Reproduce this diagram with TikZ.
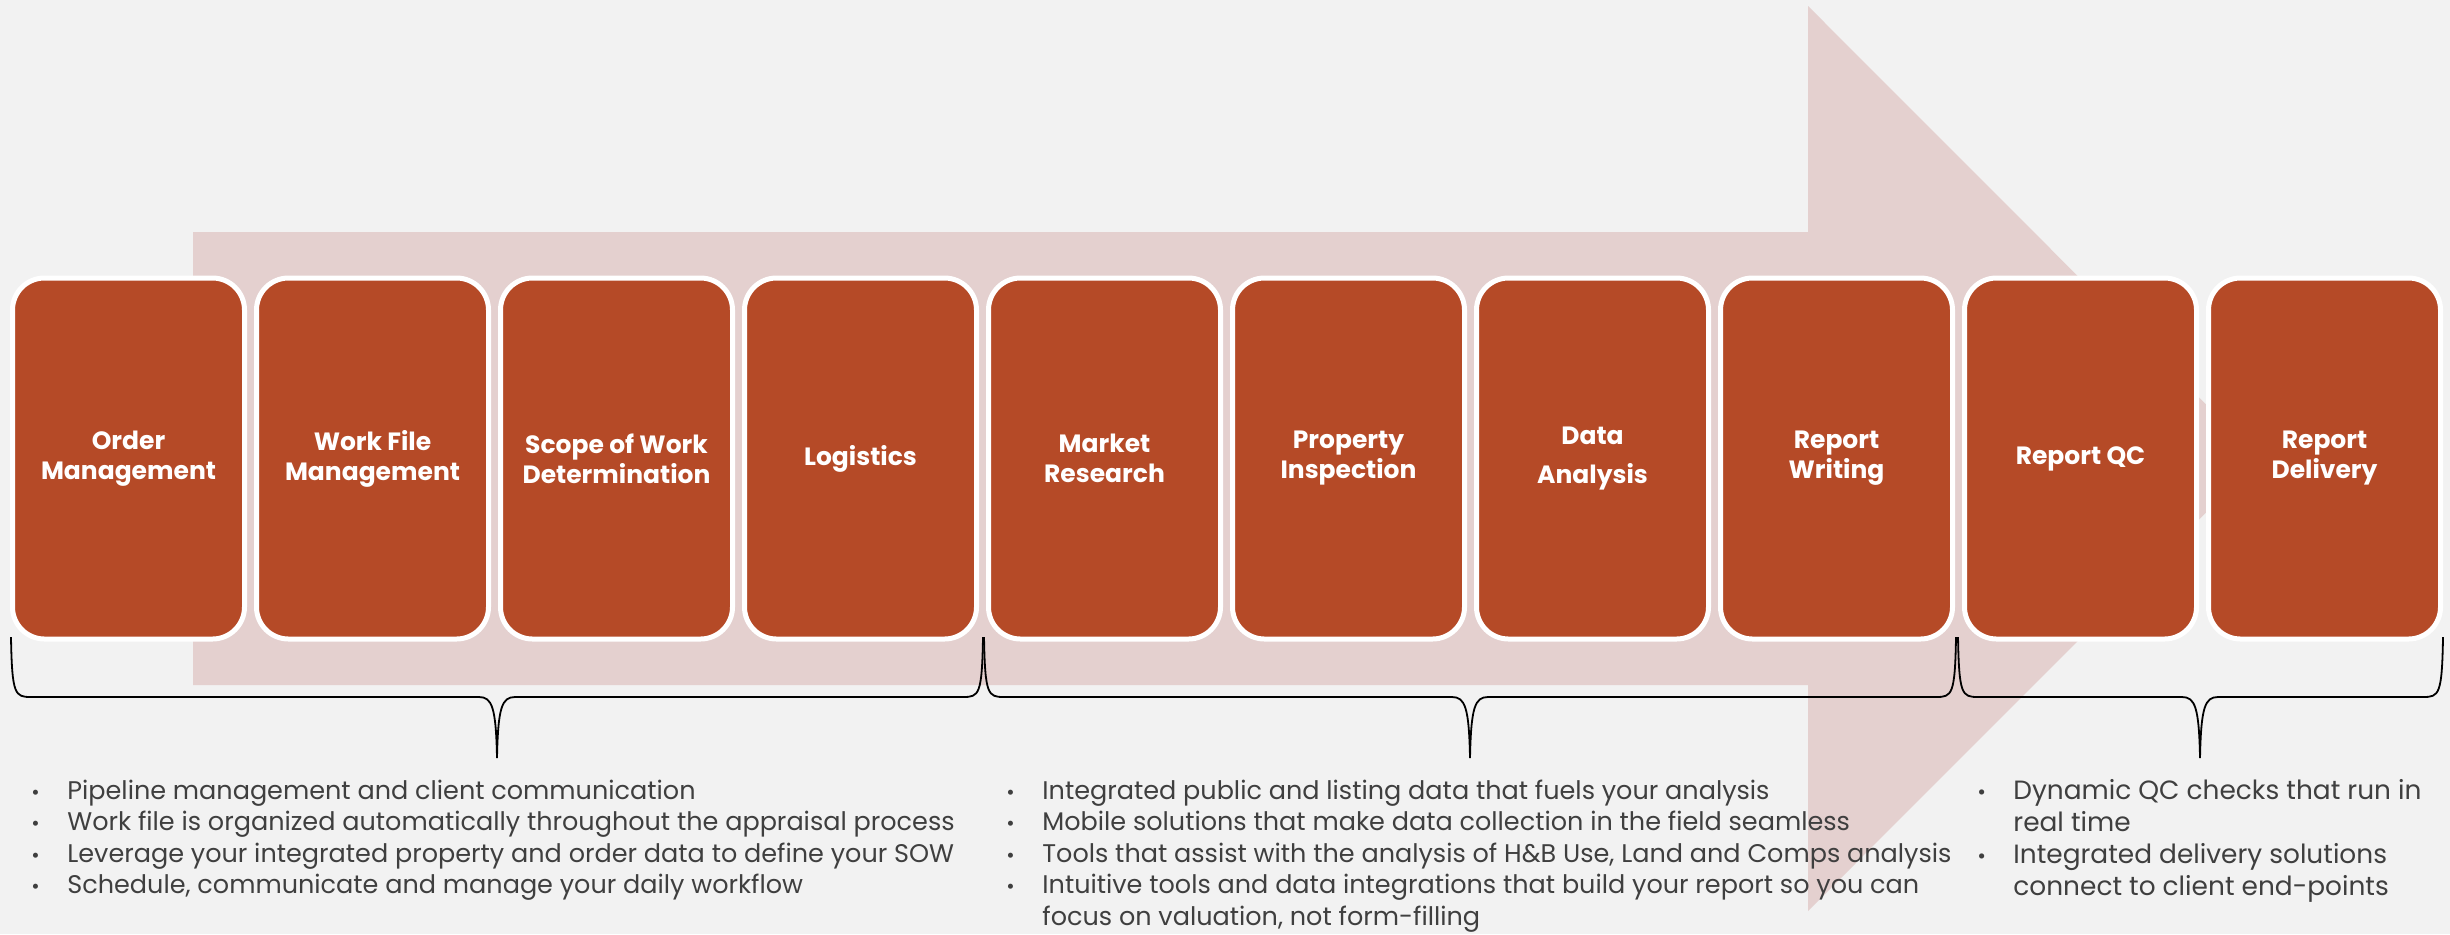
\documentclass[tikz,border=0pt]{standalone}
\usepackage{fontspec}
\setmainfont{Poppins}
\usetikzlibrary{calc}
\definecolor{bg}{HTML}{F2F2F2}
\definecolor{arrowc}{HTML}{E4D0CF}
\definecolor{boxc}{HTML}{B54A27}
\definecolor{txt}{HTML}{3F3F3F}
\newcommand{\bl}{\makebox[18pt][l]{\scalebox{0.8}{•}}}
\newcommand{\ind}{\hspace*{18pt}}
\begin{document}
\begin{tikzpicture}[x=0.5pt,y=-0.5pt,
  stepbox/.style={rounded corners=16pt, fill=boxc, draw=white, line width=2.5pt,
    minimum width=116pt, minimum height=180.5pt, inner sep=0pt, text=white,
    align=center, font=\fontsize{12.5}{15}\selectfont\bfseries},
  bracel/.style={draw=black, line width=0.9pt},
  bullets/.style={anchor=base west, inner sep=0pt, text=txt,
    font=\fontsize{12.75}{15.75}\selectfont}]
% background
\fill[bg] (0,0) rectangle (2450,934);
\useasboundingbox (0,0) rectangle (2450,934);
% big arrow
\fill[arrowc] (193,232) -- (1808,232) -- (1808,6) -- (2260,458.5) -- (1808,911) -- (1808,685) -- (193,685) -- cycle;
% boxes
\node[stepbox] (b1) at (128.5,458.5) {Order\\Management};
\node[stepbox] (b2) at (372.5,458.5) {Work File\\Management};
\node[stepbox] (b3) at (616.5,458.5) {Scope of Work\\Determination};
\node[stepbox] (b4) at (860.5,458.5) {Logistics};
\node[stepbox] (b5) at (1104.5,458.5) {Market\\Research};
\node[stepbox] (b6) at (1348.5,458.5) {Property\\Inspection};
\node[stepbox] (b7) at (1592.5,458.5) {Data\\[4.5pt]Analysis};
\node[stepbox] (b8) at (1836.5,458.5) {Report\\Writing};
\node[stepbox] (b9) at (2080.5,458.5) {Report QC};
\node[stepbox] (b10) at (2324.5,458.5) {Report\\Delivery};
% brace anchor coordinates
\coordinate (c1a) at (11,637);
\coordinate (c1m) at (497,758);
\coordinate (c1b) at (983,637);
\coordinate (c2a) at (984,637);
\coordinate (c2m) at (1470,758);
\coordinate (c2b) at (1956,637);
\coordinate (c3a) at (1958,637);
\coordinate (c3m) at (2200,758);
\coordinate (c3b) at (2443,637);
\foreach \a/\m/\b in {c1a/c1m/c1b, c2a/c2m/c2b, c3a/c3m/c3b}{
  \draw[bracel] (\a) .. controls ($(\a)+(1,58)$) and ($(\a)+(4,60)$) .. ($(\a |- 0,697)+(20,0)$)
    -- ($(\m |- 0,697)+(-18,0)$) .. controls ($(\m |- 0,697)+(-5,0)$) and ($(\m |- 0,697)+(-1,10)$) .. (\m)
    .. controls ($(\m |- 0,697)+(1,10)$) and ($(\m |- 0,697)+(5,0)$) .. ($(\m |- 0,697)+(18,0)$)
    -- ($(\b |- 0,697)+(-20,0)$) .. controls ($(\b)+(-4,60)$) and ($(\b)+(-1,58)$) .. (\b);
}
% bullet texts
\node[bullets] (t1) at (31,799) {\begin{tabular}[t]{@{}l@{}}
\bl Pipeline management and client communication\\
\bl Work file is organized automatically throughout the appraisal process\\
\bl Leverage your integrated property and order data to define your SOW\\
\bl Schedule, communicate and manage your daily workflow
\end{tabular}};
\node[bullets] (t2) at (1006,799) {\begin{tabular}[t]{@{}l@{}}
\bl Integrated public and listing data that fuels your analysis\\
\bl Mobile solutions that make data collection in the field seamless\\
\bl Tools that assist with the analysis of H\&B Use, Land and Comps analysis\\
\bl Intuitive tools and data integrations that build your report so you can\\
\ind focus on valuation, not form-filling
\end{tabular}};
\node[bullets, font=\fontsize{13.2}{16}\selectfont] (t3) at (1977,799) {\begin{tabular}[t]{@{}l@{}}
\bl Dynamic QC checks that run in\\
\ind real time\\
\bl Integrated delivery solutions\\
\ind connect to client end-points
\end{tabular}};
\end{tikzpicture}
\end{document}
